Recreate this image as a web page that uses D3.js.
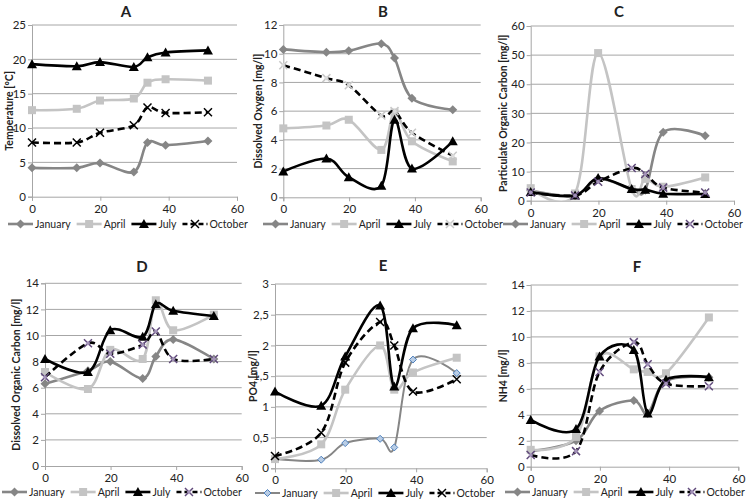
<!DOCTYPE html>
<html><head><meta charset="utf-8">
<script src="https://cdn.jsdelivr.net/npm/d3@7"></script>
<style>body{margin:0;background:#fff}svg text{font-family:Lato,"Open Sans",sans-serif;fill:#222}</style>
</head><body><svg id="c" width="752" height="501"></svg>
<script>
// ---------- DATA ----------
const distance = [0, 13.1, 19.9, 29.8, 33.8, 39.1, 51.5];
const seriesNames = ["January", "April", "July", "October"];
const xTicks = [0, 20, 40, 60];

// A: Temperature [°C]
const tempJanuary = [4.2, 4.2, 4.9, 3.6, 7.9, 7.5, 8.1];
const tempApril   = [12.6, 12.8, 14.0, 14.3, 16.6, 17.1, 16.9];
const tempJuly    = [19.3, 19.0, 19.6, 18.9, 20.3, 21.0, 21.3];
const tempOctober = [7.9, 7.9, 9.3, 10.4, 13.0, 12.2, 12.3];
const tempTicks   = [0, 5, 10, 15, 20, 25];

// B: Dissolved Oxygen [mg/l]
const doJanuary = [10.3, 10.1, 10.2, 10.7, 9.7, 6.9, 6.1];
const doApril   = [4.8, 5.0, 5.4, 3.3, 5.9, 3.9, 2.5];
const doJuly    = [1.8, 2.7, 1.4, 0.8, 5.4, 2.0, 3.9];
const doOctober = [9.2, 8.3, 7.8, 5.7, 6.0, 4.5, 2.9];
const doTicks   = [0, 2, 4, 6, 8, 10, 12];

// C: Particulate Organic Carbon [mg/l]
const pocJanuary = [3.5, 1.8, 7.5, 4.0, 3.6, 23.5, 22.3];
const pocApril   = [4.3, 2.5, 50.7, 4.0, 7.5, 4.8, 8.0];
const pocJuly    = [3.0, 1.8, 7.8, 4.0, 3.8, 2.4, 2.3];
const pocOctober = [2.8, 1.8, 6.5, 11.2, 9.2, 4.5, 2.8];
const pocTicks   = [0, 10, 20, 30, 40, 50, 60];

// D: Dissolved Organic Carbon [mg/l]
const docJanuary = [6.3, 7.3, 8.0, 6.7, 8.4, 9.7, 8.2];
const docApril   = [7.2, 5.9, 8.9, 8.2, 12.7, 10.4, 11.6];
const docJuly    = [8.2, 7.2, 10.4, 9.9, 12.4, 11.9, 11.5];
const docOctober = [6.8, 9.4, 8.6, 9.3, 10.3, 8.2, 8.2];
const docTicks   = [0, 2, 4, 6, 8, 10, 12, 14];

// E: PO4 [mg/l]
const po4January = [0.15, 0.14, 0.41, 0.48, 0.34, 1.77, 1.55];
const po4April   = [0.15, 0.39, 1.28, 2.0, 1.28, 1.56, 1.8];
const po4July    = [1.25, 1.02, 1.82, 2.65, 1.33, 2.28, 2.33];
const po4October = [0.2, 0.58, 1.72, 2.38, 2.0, 1.25, 1.45];
const po4Ticks   = [0, 0.5, 1, 1.5, 2, 2.5, 3];

// F: NH4 [mg/l]
const nh4January = [1.2, 2.0, 4.3, 5.1, 4.1, 6.6, 6.9];
const nh4April   = [1.3, 2.3, 8.5, 7.5, 7.3, 7.2, 11.5];
const nh4July    = [3.6, 2.9, 8.5, 9.0, 4.1, 6.7, 6.9];
const nh4October = [0.9, 1.2, 7.3, 9.6, 7.9, 6.4, 6.2];
const nh4Ticks   = [0, 2, 4, 6, 8, 10, 12, 14];

// ---------- LAYOUT ----------
const panels = [
  {title:"A", ylabel:"Temperature [°C]", ticks:tempTicks, data:[tempJanuary,tempApril,tempJuly,tempOctober],
   box:[32,237,25,196.7], titleX:126, titleY:17, ylabX:10, legX:8, legY:224, octColor:"#000", octFill:"#000", janStyle:"gray"},
  {title:"B", ylabel:"Dissolved Oxygen [mg/l]", ticks:doTicks, data:[doJanuary,doApril,doJuly,doOctober],
   box:[283.3,480.7,25,197.3], titleX:383, titleY:17, ylabX:259, legX:263, legY:224, octColor:"#c8c8c8", octFill:"#e0e0e0", janStyle:"gray"},
  {title:"C", ylabel:"Particulate Organic Carbon [mg/l]", ticks:pocTicks, data:[pocJanuary,pocApril,pocJuly,pocOctober],
   box:[530.7,734,26,200.7], titleX:619, titleY:17, ylabX:504, legX:503, legY:224, octColor:"#604a7b", octFill:"#b3a2c7", janStyle:"gray"},
  {title:"D", ylabel:"Dissolved Organic Carbon [mg/l]", ticks:docTicks, data:[docJanuary,docApril,docJuly,docOctober],
   box:[45,241.7,283.3,466], titleX:142, titleY:272, ylabX:17, legX:2, legY:492, octColor:"#604a7b", octFill:"#b3a2c7", janStyle:"gray"},
  {title:"E", ylabel:"PO4 [mg/l]", ticks:po4Ticks, data:[po4January,po4April,po4July,po4October],
   box:[275,486.7,284,468.3], titleX:383, titleY:271, ylabX:254, legX:255, legY:493, octColor:"#000", octFill:"#000", janStyle:"blue",
   fmt:d=>String(d).replace(".", ",")},
  {title:"F", ylabel:"NH4 [mg/l]", ticks:nh4Ticks, data:[nh4January,nh4April,nh4July,nh4October],
   box:[530.7,738.3,285,466.7], titleX:637, titleY:272, ylabX:504, legX:505, legY:492, octColor:"#604a7b", octFill:"#b3a2c7", janStyle:"gray"}
];

const svg = d3.select("#c");
const COL_JAN = "#868686", COL_APR = "#c4c4c4", GRID = "#a6a6a6";

function drawMarker(g, name, x, y, p) {
  if (name === "January") {
    if (p.janStyle === "blue")
      g.append("path").attr("d", `M${x},${y-3.5}L${x+3.5},${y}L${x},${y+3.5}L${x-3.5},${y}Z`)
        .attr("fill", "#b9cde5").attr("stroke", "#4f81bd").attr("stroke-width", 1);
    else
      g.append("path").attr("d", `M${x},${y-4.5}L${x+4.5},${y}L${x},${y+4.5}L${x-4.5},${y}Z`).attr("fill", COL_JAN);
  } else if (name === "April") {
    g.append("rect").attr("x", x-4).attr("y", y-4).attr("width", 8).attr("height", 8).attr("fill", COL_APR);
  } else if (name === "July") {
    g.append("path").attr("d", `M${x},${y-5}L${x+5},${y+4}L${x-5},${y+4}Z`).attr("fill", "#000");
  } else {
    g.append("path").attr("d", `M${x-4},${y-4}L${x+4},${y+4}M${x+4},${y-4}L${x-4},${y+4}`)
      .attr("stroke", p.octColor).attr("stroke-width", 1.5).attr("fill", "none");
    if (p.octColor !== "#000")
      g.append("path").attr("d", `M${x},${y-2.5}L${x+2.5},${y}L${x},${y+2.5}L${x-2.5},${y}Z`).attr("fill", p.octFill).attr("opacity", 0.8);
  }
}

function lineStyle(sel, name, p) {
  if (name === "January") sel.attr("stroke", COL_JAN).attr("stroke-width", p.janStyle === "blue" ? 2 : 2.6);
  else if (name === "April") sel.attr("stroke", COL_APR).attr("stroke-width", 2.6);
  else if (name === "July") sel.attr("stroke", "#000").attr("stroke-width", 2.6);
  else sel.attr("stroke", "#000").attr("stroke-width", 2.6).attr("stroke-dasharray", "7,4");
  return sel;
}

panels.forEach((p, pi) => {
  const [x0, x1, y0, y1] = p.box;
  const yMax = p.ticks[p.ticks.length - 1];
  const x = d3.scaleLinear().domain([0, 60]).range([x0, x1]);
  const y = d3.scaleLinear().domain([0, yMax]).range([y1, y0]);
  const g = svg.append("g");
  const fmt = p.fmt || (d => String(d));

  // grid
  g.append("g").selectAll("line").data(p.ticks.filter(t => t > 0)).join("line")
    .attr("x1", x0).attr("x2", x1).attr("y1", d => y(d)).attr("y2", d => y(d))
    .attr("stroke", GRID).attr("stroke-width", 1);

  // y axis
  const ya = g.append("g").attr("transform", `translate(${x0},0)`)
    .call(d3.axisLeft(y).tickValues(p.ticks).tickFormat(fmt).tickSize(4));
  ya.select(".domain").attr("stroke", GRID);
  ya.selectAll(".tick line").attr("stroke", GRID);
  ya.selectAll("text").attr("font-size", 11.5).attr("fill", "#222").attr("x", -6);

  // x axis
  const xa = g.append("g").attr("transform", `translate(0,${y1})`)
    .call(d3.axisBottom(x).tickValues(xTicks).tickFormat(d => d).tickSize(4));
  xa.select(".domain").attr("stroke", GRID);
  xa.selectAll(".tick line").attr("stroke", GRID);
  xa.selectAll("text").attr("font-size", 11.5).attr("fill", "#222").attr("y", 8);

  // title
  g.append("text").attr("x", p.titleX).attr("y", p.titleY).attr("text-anchor", "middle")
    .attr("font-size", 15).attr("font-weight", "bold").text(p.title);

  // y label
  g.append("text").attr("transform", `translate(${p.ylabX},${(y0+y1)/2}) rotate(-90)`)
    .attr("text-anchor", "middle").attr("dominant-baseline", "middle")
    .attr("font-size", 10.5).attr("font-weight", "bold").text(p.ylabel);

  // clip
  const cid = "clip" + pi;
  svg.append("clipPath").attr("id", cid).append("rect")
    .attr("x", x0).attr("y", y0 - 2).attr("width", x1 - x0).attr("height", y1 - y0 + 2);

  const line = d3.line().x((d, i) => x(distance[i])).y(d => y(d)).curve(d3.curveCardinal.tension(0));

  seriesNames.forEach((name, si) => {
    const vals = p.data[si];
    lineStyle(g.append("path").datum(vals).attr("d", line).attr("fill", "none")
      .attr("clip-path", `url(#${cid})`), name, p);
    const mg = g.append("g");
    vals.forEach((v, i) => drawMarker(mg, name, x(distance[i]), y(v), p));
  });

  // legend
  let lx = p.legX;
  const ly = p.legY;
  seriesNames.forEach(name => {
    const lg = g.append("g");
    lineStyle(lg.append("line").attr("x1", lx).attr("x2", lx + 25).attr("y1", ly).attr("y2", ly), name, p)
      .attr("stroke-dasharray", name === "October" ? "5,3" : null);
    drawMarker(lg, name, lx + 12.5, ly, p);
    const t = lg.append("text").attr("x", lx + 27).attr("y", ly + 4).attr("font-size", 10.5).text(name);
    lx += 27 + t.node().getComputedTextLength() + 6;
  });
});
</script></body></html>
